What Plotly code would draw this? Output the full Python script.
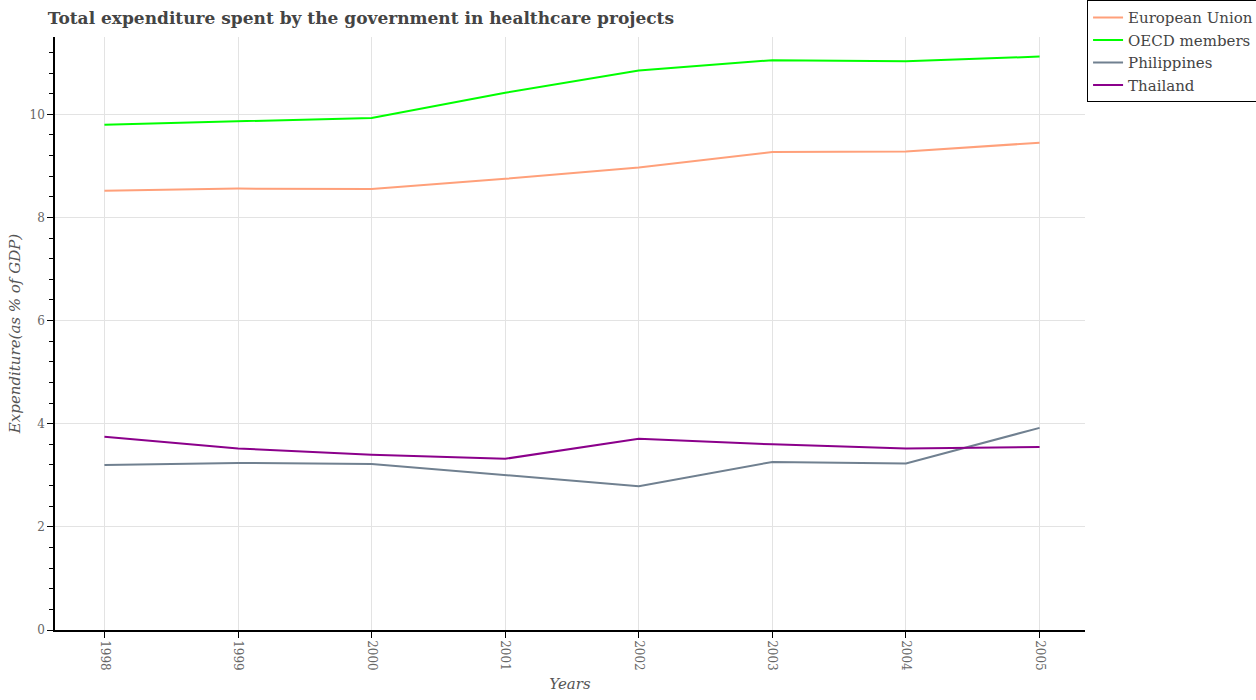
import plotly.graph_objects as go

years = [1998, 1999, 2000, 2001, 2002, 2003, 2004, 2005]
year_labels = [str(y) for y in years]
eu = [8.52, 8.56, 8.55, 8.75, 8.97, 9.27, 9.28, 9.45]
oecd = [9.80, 9.86, 9.93, 10.42, 10.85, 11.05, 11.03, 11.12]
philippines = [3.20, 3.24, 3.22, 3.00, 2.79, 3.26, 3.23, 3.92]
thailand = [3.75, 3.52, 3.40, 3.32, 3.71, 3.60, 3.52, 3.55]

series = [
    ("European Union", eu, "#FFA07A"),
    ("OECD members", oecd, "#00FF00"),
    ("Philippines", philippines, "#708090"),
    ("Thailand", thailand, "#8B008B"),
]

fig = go.Figure()
for name, vals, col in series:
    fig.add_trace(go.Scatter(x=years, y=vals, name=name, mode="lines",
                             line=dict(color=col, width=2)))

font_family = "DejaVu Serif"
fig.update_layout(
    width=1256, height=700,
    margin=dict(l=55, r=171, t=37, b=70, autoexpand=False),
    paper_bgcolor="white", plot_bgcolor="white",
    font=dict(family=font_family, color="#555555"),
    title=dict(text="<b>Total expenditure spent by the government in healthcare projects</b>",
               x=0.038, xanchor="left", y=0.974, yanchor="middle", pad=dict(l=0, t=0),
               automargin=False,
               font=dict(family=font_family, size=17, color="#444444")),
    legend=dict(x=1.002, xanchor="left", y=1.062, yanchor="top",
                bordercolor="black", borderwidth=1, itemwidth=30,
                font=dict(family=font_family, size=15, color="#444444"),
                bgcolor="white"),
    showlegend=True,
)
fig.update_xaxes(
    range=[1997.63, 2005.34], automargin=False,
    tickvals=years, ticktext=year_labels, tickangle=90,
    showgrid=True, gridcolor="#e3e3e3",
    showline=True, linecolor="black", linewidth=1.5,
    ticks="outside", ticklen=6, tickcolor="black",
    tickfont=dict(family=font_family, size=12, color="#666666"),
    title=dict(text="<i>Years</i>", font=dict(family=font_family, size=15, color="#555555"),
               standoff=8),
    zeroline=False,
)
fig.update_yaxes(
    range=[0, 11.5], automargin=False,
    tickvals=[0, 2, 4, 6, 8, 10],
    showgrid=True, gridcolor="#e3e3e3",
    showline=True, linecolor="black", linewidth=1.5,
    ticks="outside", ticklen=6, tickcolor="black",
    minor=dict(dtick=0.4, ticks="outside", ticklen=4, tickcolor="black", showgrid=False),
    tickfont=dict(family=font_family, size=12, color="#666666"),
    title=dict(text="<i>Expenditure(as % of GDP)</i>", font=dict(family=font_family, size=15, color="#555555"),
               standoff=5),
    zeroline=False,
)
fig.write_html("out.html", config={"displayModeBar": False},
               post_script="document.body.style.margin='0';document.body.style.padding='0';")
